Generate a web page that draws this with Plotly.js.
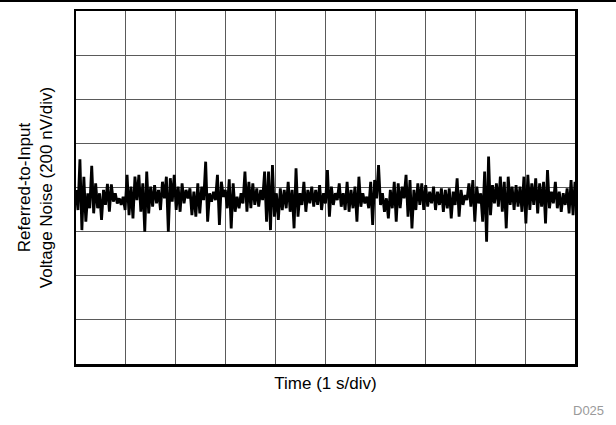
<!DOCTYPE html>
<html>
<head>
<meta charset="utf-8">
<script src="https://cdn.plot.ly/plotly-3.0.1.min.js"></script>
<style>
  body { margin: 0; background: #fff; }
  #chart { width: 616px; height: 425px; }
</style>
</head>
<body>
<div id="chart"></div>
<script>
// Noise trace, in nV, evenly spaced over 10 s
const noise_part1 = [-11, -102, 128, -193, 49, -155, -26, -94, 98, -117, 19, -94, -26, -147, -11, -79, 16, -110, 14, -64,
  -26, -72, -49, -79, -42, -102, 57, -125, 4, -140, 49, -57, 57, -110, 19, -200, 72, -117, 4, -87,
  11, -72, -11, -102, 26, -49, 49, -200, 42, -64];
const noise_part2 = [57, -102, 4, -110, 19, -72, -11, -49, -4, -125, -19, -132, 19, -117, 4, -57, 117, -155, -26, -64,
  -19, -57, 57, -170, 26, -42, -11, -94, 37, -185, 19, -110, -42, -94, -26, -72, 72, -110, 26, -94,
  19, -79, -4, -87, -11, -57, 72, -155, 72, -193, 102, -132];
const noise_part3 = [-26, -147, -4, -102, -11, -94, 26, -110, -11, -185, 87, -132, -26, -79, 26, -110, -11, -72, 4, -87,
  -11, -79, 11, -102, -26, -72, 79, -132, 4, -79, -26, -57, 19, -87, -26, -102, 26, -110, -11, -94,
  4, -155, 49, -87, -26, -72, -42, -94, 26, -170, 34, -49];
const noise_part4 = [102, -79, -26, -110, -49, -140, -11, -94, 26, -155, 19, -94, 4, -49, 57, -132, 34, -185, -11, -102,
  19, -79, 19, -102, 11, -87, -19, -72, 4, -102, -19, -79, -4, -110, -11, -94, -4, -140, -19, -79,
  42, -132, -11, -79, -34, -57, 19, -87, 34, -155, 4, -72];
const noise_part5 = [-26, -155, 72, -246, 140, -125, 11, -72, 19, -87, 49, -110, 26, -185, 49, -79, 4, -102, 11, -87,
  4, -110, 49, -163, 57, -102, 19, -79, 42, -117, 19, -87, 26, -163, 79, -94, -19, -72, 26, -94,
  -19, -110, -26, -79, -4, -117, 34, -125, 26];

const noise_nv = noise_part1.concat(noise_part2, noise_part3, noise_part4, noise_part5);
const time_span = 10; // seconds across the screen
const time_s = noise_nv.map((v, i) => (i * time_span) / (noise_nv.length - 1));

const font_family = 'Liberation Sans, Arial, sans-serif';

var chart_data = [
  {
    x: time_s,
    y: noise_nv,
    type: 'scatter',
    mode: 'lines',
    line: { color: '#000000', width: 2.8 },
    hoverinfo: 'skip',
  },
];

var chart_layout = {
  width: 616,
  height: 425,
  margin: { l: 76, r: 41, t: 11, b: 61 },
  paper_bgcolor: '#ffffff',
  plot_bgcolor: '#ffffff',
  showlegend: false,
  font: { family: font_family, size: 17, color: '#000000' },
  xaxis: {
    range: [0, 10],
    dtick: 1,
    tick0: 0,
    showticklabels: false,
    ticks: '',
    showgrid: true,
    gridcolor: '#5a5a5a',
    gridwidth: 1,
    zeroline: false,
    showline: true,
    linecolor: '#000000',
    linewidth: 2.5,
    mirror: true,
    title: { text: 'Time (1 s/div)', standoff: 12, font: { size: 17 } },
  },
  yaxis: {
    range: [-800, 800],
    dtick: 200,
    tick0: 0,
    showticklabels: false,
    ticks: '',
    showgrid: true,
    gridcolor: '#5a5a5a',
    gridwidth: 1,
    zeroline: false,
    showline: true,
    linecolor: '#000000',
    linewidth: 2.5,
    mirror: true,
    title: {
      text: 'Referred-to-Input<br>Voltage Noise (200 nV/div)',
      standoff: 17,
      font: { size: 17 },
    },
  },
  // rule across the top of the figure
  shapes: [
    {
      type: 'line',
      xref: 'paper',
      yref: 'paper',
      x0: -76 / 499,
      x1: 540 / 499,
      y0: 1 + 10 / 353,
      y1: 1 + 10 / 353,
      line: { color: '#000000', width: 1.8 },
    },
  ],
  annotations: [
    {
      text: 'D025',
      xref: 'paper',
      yref: 'paper',
      x: 1.062,
      y: -0.105,
      xanchor: 'right',
      yanchor: 'top',
      showarrow: false,
      font: { size: 13, color: '#9a9a9a' },
    },
  ],
};

Plotly.newPlot('chart', chart_data, chart_layout, { staticPlot: true });
</script>
</body>
</html>
